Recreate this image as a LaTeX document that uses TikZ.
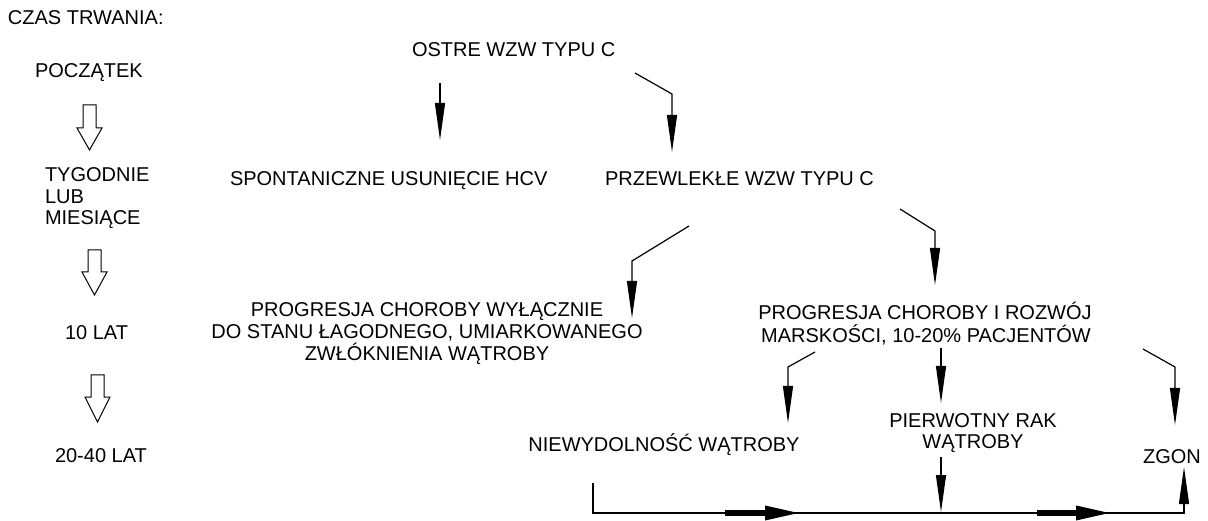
\documentclass[tikz,border=0pt]{standalone}
\usepackage{fontspec}
\setmainfont{Liberation Sans}
\usetikzlibrary{arrows.meta}
\tikzset{
  lbl/.style={inner sep=0pt, outer sep=0pt, font=\fontsize{20}{21.5}\selectfont},
  conn/.style={draw=black, line width=1.2pt, -{Triangle[length=37pt,width=10pt]}},
  thick arrow/.style={draw=black, line width=6pt, -{Triangle[length=37pt,width=13pt]}},
  hollow/.style={draw=black, line width=1pt, fill=white, line join=miter}
}
\newcommand{\hollowarrow}[4]{% x, ytop, yhead, ytip
  \draw[hollow] (#1-6.5,#2) -- (#1+6.5,#2) -- (#1+6.5,#3) -- (#1+12.5,#3) -- (#1,#4) -- (#1-12.5,#3) -- (#1-6.5,#3) -- cycle;
}
\begin{document}
\begin{tikzpicture}[x=1pt,y=-1pt]
\useasboundingbox (0,0) rectangle (1208,521);
% time column
\node[lbl, anchor=base west] (czas) at (8,25) {CZAS TRWANIA:};
\node[lbl, anchor=base west] (pocz) at (35,78) {POCZĄTEK};
\node[lbl, anchor=base west] (tyg) at (45,182) {TYGODNIE};
\node[lbl, anchor=base west] (lub) at (45,204) {LUB};
\node[lbl, anchor=base west] (mies) at (45,225) {MIESIĄCE};
\node[lbl, anchor=base west] (lat10) at (65,340) {10 LAT};
\node[lbl, anchor=base west] (lat20) at (55,462) {20-40 LAT};
\hollowarrow{89.5}{105}{128}{150}
\hollowarrow{94.5}{250}{272}{295}
\hollowarrow{97.5}{375}{397}{422}
% main flow
\node[lbl, anchor=base west] (ostre) at (412,57) {OSTRE WZW TYPU C};
\node[lbl, anchor=base west] (spont) at (230,186) {SPONTANICZNE USUNIĘCIE HCV};
\node[lbl, anchor=base west] (przew) at (605,186) {PRZEWLEKŁE WZW TYPU C};
\node[lbl, anchor=base] (prog1a) at (427,317) {PROGRESJA CHOROBY WYŁĄCZNIE};
\node[lbl, anchor=base] (prog1b) at (427,339) {DO STANU ŁAGODNEGO, UMIARKOWANEGO};
\node[lbl, anchor=base] (prog1c) at (427,361) {ZWŁÓKNIENIA WĄTROBY};
\node[lbl, anchor=base] (prog2a) at (925,320) {PROGRESJA CHOROBY I ROZWÓJ};
\node[lbl, anchor=base] (prog2b) at (926,343) {MARSKOŚCI, 10-20\% PACJENTÓW};
\node[lbl, anchor=base] (niew) at (664,451) {NIEWYDOLNOŚĆ WĄTROBY};
\node[lbl, anchor=base] (rak1) at (973,427) {PIERWOTNY RAK};
\node[lbl, anchor=base] (rak2) at (973,448) {WĄTROBY};
\node[lbl, anchor=base] (zgon) at (1172,463) {ZGON};
% connector points
\coordinate (a1s) at (440,83);  \coordinate (a1e) at (440,140);
\coordinate (a2s) at (635,73);  \coordinate (a2b) at (672,94);  \coordinate (a2e) at (672,152);
\coordinate (a3s) at (689,226); \coordinate (a3b) at (632,261); \coordinate (a3e) at (632,318);
\coordinate (a4s) at (900,209); \coordinate (a4b) at (935,231); \coordinate (a4e) at (935,285);
\coordinate (a5s) at (815,352); \coordinate (a5b) at (788,367); \coordinate (a5e) at (788,423);
\coordinate (a6s) at (941,348); \coordinate (a6e) at (941,403);
\coordinate (a7s) at (1143,349); \coordinate (a7b) at (1175,367); \coordinate (a7e) at (1175,425);
\coordinate (a8s) at (941,457); \coordinate (a8e) at (941,512);
\coordinate (b1) at (593,483); \coordinate (b2) at (593,513); \coordinate (b3) at (1184,513); \coordinate (b4) at (1184,467);
\coordinate (t1s) at (725,513); \coordinate (t1e) at (802,513);
\coordinate (t2s) at (1037,513); \coordinate (t2e) at (1113,513);
\draw[conn] (a1s) -- (a1e);
\draw[conn] (a2s) -- (a2b) -- (a2e);
\draw[conn] (a3s) -- (a3b) -- (a3e);
\draw[conn] (a4s) -- (a4b) -- (a4e);
\draw[conn] (a5s) -- (a5b) -- (a5e);
\draw[conn] (a6s) -- (a6e);
\draw[conn] (a7s) -- (a7b) -- (a7e);
\draw[conn] (a8s) -- (a8e);
\draw[conn] (b1) -- (b2) -- (b3) -- (b4);
\draw[thick arrow] (t1s) -- (t1e);
\draw[thick arrow] (t2s) -- (t2e);
\end{tikzpicture}
\end{document}
